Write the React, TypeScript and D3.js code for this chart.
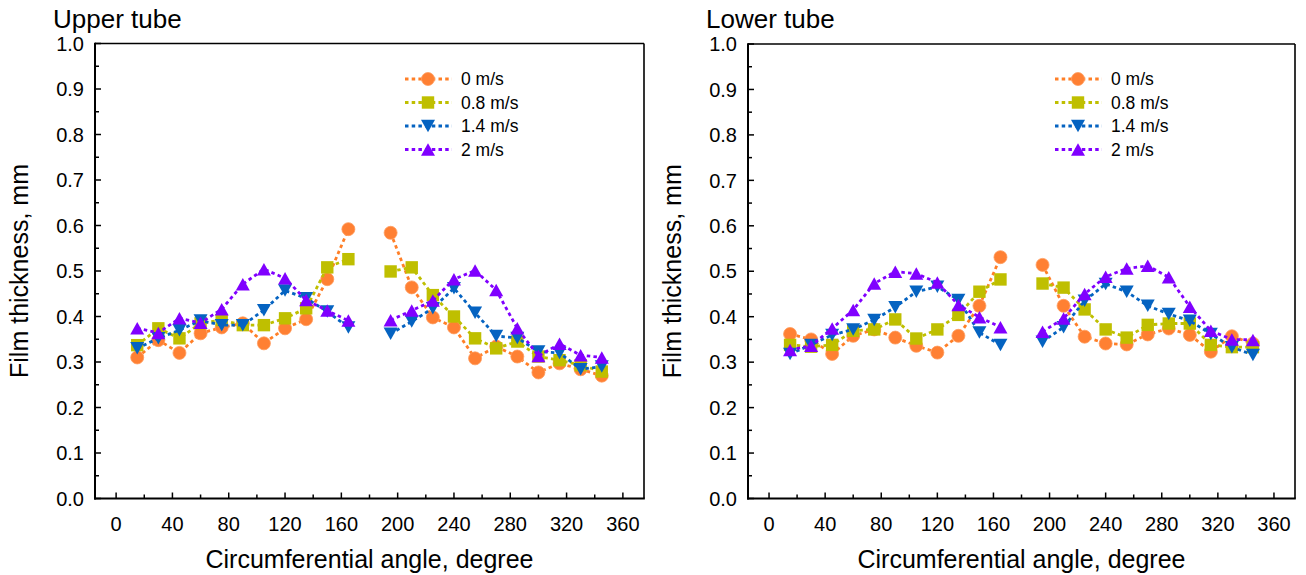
import React from "react";
import * as d3 from "d3";

// Circumferential positions (degrees) of the measurement points, split at the top of the tube
const anglesA = [15, 30, 45, 60, 75, 90, 105, 120, 135, 150, 165];
const anglesB = [195, 210, 225, 240, 255, 270, 285, 300, 315, 330, 345];

const speeds = ["0 m/s", "0.8 m/s", "1.4 m/s", "2 m/s"];

// Upper tube film thickness (mm)
const upper0 = [0.31, 0.348, 0.32, 0.363, 0.376, 0.385, 0.341, 0.374, 0.394, 0.482, 0.592,
  0.584, 0.464, 0.398, 0.376, 0.308, 0.334, 0.312, 0.277, 0.297, 0.284, 0.27];
const upper08 = [0.337, 0.374, 0.352, 0.385, 0.392, 0.381, 0.381, 0.396, 0.418, 0.508, 0.526,
  0.499, 0.508, 0.447, 0.4, 0.352, 0.33, 0.345, 0.312, 0.304, 0.293, 0.279];
const upper14 = [0.33, 0.352, 0.37, 0.391, 0.381, 0.381, 0.414, 0.457, 0.44, 0.411, 0.376,
  0.362, 0.389, 0.418, 0.462, 0.408, 0.357, 0.353, 0.323, 0.32, 0.284, 0.29];
const upper2 = [0.374, 0.364, 0.396, 0.386, 0.416, 0.471, 0.504, 0.484, 0.436, 0.413, 0.391,
  0.392, 0.413, 0.435, 0.482, 0.501, 0.458, 0.374, 0.313, 0.34, 0.315, 0.31];

// Lower tube film thickness (mm)
const lower0 = [0.362, 0.35, 0.318, 0.358, 0.372, 0.354, 0.336, 0.321, 0.358, 0.424, 0.531,
  0.514, 0.424, 0.356, 0.341, 0.339, 0.361, 0.374, 0.36, 0.323, 0.357, 0.341];
const lower08 = [0.338, 0.334, 0.338, 0.369, 0.372, 0.394, 0.352, 0.372, 0.404, 0.455, 0.482,
  0.473, 0.464, 0.416, 0.372, 0.354, 0.382, 0.385, 0.385, 0.338, 0.333, 0.333];
const lower14 = [0.318, 0.338, 0.36, 0.372, 0.393, 0.421, 0.455, 0.466, 0.437, 0.365, 0.338,
  0.345, 0.377, 0.435, 0.472, 0.455, 0.424, 0.406, 0.391, 0.362, 0.333, 0.316];
const lower2 = [0.327, 0.336, 0.374, 0.415, 0.473, 0.499, 0.495, 0.475, 0.426, 0.399, 0.377,
  0.367, 0.396, 0.45, 0.488, 0.506, 0.512, 0.487, 0.422, 0.369, 0.35, 0.349];

const xTicks = [0, 40, 80, 120, 160, 200, 240, 280, 320, 360];
const yTicks = [0, 0.1, 0.2, 0.3, 0.4, 0.5, 0.6, 0.7, 0.8, 0.9, 1.0];

const lineColors = ["#FF7F27", "#BFBF00", "#0563C1", "#8000FF"];
const markerFill = ["#FF8033", "#BFBF00", "#0563C1", "#8000FF"];
const markerKinds = ["circle", "square", "down", "up"];

const FONT = "'Liberation Sans', Arial, Helvetica, sans-serif";

function Marker({ kind, x, y, color }: { kind: string; x: number; y: number; color: string }) {
  if (kind === "circle") {
    return <circle cx={x} cy={y} r={6.5} fill={color} stroke="#FF9A5C" strokeWidth={0.8} />;
  }
  if (kind === "square") {
    return <rect x={x - 6.2} y={y - 6.2} width={12.4} height={12.4} fill={color} />;
  }
  const h = 12.5;
  const w = 14;
  if (kind === "down") {
    return (
      <path d={`M${x - w / 2},${y - h / 2}L${x + w / 2},${y - h / 2}L${x},${y + h / 2}Z`} fill={color} />
    );
  }
  return <path d={`M${x - w / 2},${y + h / 2}L${x + w / 2},${y + h / 2}L${x},${y - h / 2}Z`} fill={color} />;
}

type PanelProps = {
  title: string;
  left: number;
  right: number;
  top: number;
  bottom: number;
  series: number[][];
  legendX: number;
};

function Panel({ title, left, right, top, bottom, series, legendX }: PanelProps) {
  const x = d3.scaleLinear().domain([-15, 375]).range([left, right]);
  const y = d3.scaleLinear().domain([0, 1]).range([bottom, top]);
  const line = d3
    .line<[number, number]>()
    .x((d) => x(d[0]))
    .y((d) => y(d[1]));

  const xMinor = d3.range(0, 361, 20).filter((v) => v % 40 !== 0);
  const yMinor = d3.range(0.05, 1, 0.1);

  return (
    <g>
      <text x={left - 42} y={28} fontFamily={FONT} fontSize={26} fill="#000">
        {title}
      </text>

      {series.map((vals, si) => {
        const ptsA: [number, number][] = anglesA.map((a, i) => [a, vals[i]]);
        const ptsB: [number, number][] = anglesB.map((a, i) => [a, vals[i + anglesA.length]]);
        const all = [...ptsA, ...ptsB];
        return (
          <g key={si}>
            {[ptsA, ptsB].map((pts, k) => (
              <path
                key={k}
                d={line(pts) || ""}
                fill="none"
                stroke={lineColors[si]}
                strokeWidth={2.8}
                strokeDasharray="3.5,3.2"
              />
            ))}
            {all.map((p, i) => (
              <Marker key={i} kind={markerKinds[si]} x={x(p[0])} y={y(p[1])} color={markerFill[si]} />
            ))}
          </g>
        );
      })}

      {/* frame */}
      <line x1={left} x2={right} y1={top} y2={top} stroke="#000" strokeWidth={1.6} />
      <line x1={right} x2={right} y1={top} y2={bottom} stroke="#000" strokeWidth={1.6} />
      <line x1={left} x2={left} y1={top - 0.8} y2={bottom + 1} stroke="#000" strokeWidth={2} />
      <line x1={left - 1} x2={right + 0.8} y1={bottom} y2={bottom} stroke="#000" strokeWidth={2} />

      {/* x ticks */}
      {xTicks.map((t) => (
        <g key={t}>
          <line x1={x(t)} x2={x(t)} y1={bottom} y2={bottom - 6} stroke="#000" strokeWidth={1.5} />
          <text x={x(t)} y={531} textAnchor="middle" fontFamily={FONT} fontSize={20} fill="#000">
            {t}
          </text>
        </g>
      ))}
      {xMinor.map((t) => (
        <line key={t} x1={x(t)} x2={x(t)} y1={bottom} y2={bottom - 4} stroke="#000" strokeWidth={1.5} />
      ))}

      {/* y ticks */}
      {yTicks.map((t) => (
        <g key={t}>
          <line x1={left} x2={left + 6} y1={y(t)} y2={y(t)} stroke="#000" strokeWidth={1.5} />
          <text
            x={left - 11}
            y={y(t)}
            dy="0.36em"
            textAnchor="end"
            fontFamily={FONT}
            fontSize={20}
            fill="#000"
          >
            {t.toFixed(1)}
          </text>
        </g>
      ))}
      {yMinor.map((t) => (
        <line key={t} x1={left} x2={left + 4} y1={y(t)} y2={y(t)} stroke="#000" strokeWidth={1.5} />
      ))}

      {/* axis titles */}
      <text
        x={(left + right) / 2}
        y={568}
        textAnchor="middle"
        fontFamily={FONT}
        fontSize={25}
        fill="#000"
      >
        Circumferential angle, degree
      </text>
      <text
        transform={`translate(${left - 67},${(top + bottom) / 2}) rotate(-90)`}
        textAnchor="middle"
        fontFamily={FONT}
        fontSize={25}
        fill="#000"
      >
        Film thickness, mm
      </text>

      {/* legend */}
      {speeds.map((s, i) => {
        const ly = 79 + i * 23.5;
        return (
          <g key={s}>
            <line
              x1={legendX}
              x2={legendX + 47}
              y1={ly}
              y2={ly}
              stroke={lineColors[i]}
              strokeWidth={2.8}
              strokeDasharray="3.5,3.2"
            />
            <Marker kind={markerKinds[i]} x={legendX + 23} y={ly} color={markerFill[i]} />
            <text x={legendX + 56} y={ly} dy="0.36em" fontFamily={FONT} fontSize={17.5} fill="#000">
              {s}
            </text>
          </g>
        );
      })}
    </g>
  );
}

export default function App() {
  return (
    <svg
      width={1306}
      height={575}
      style={{ position: "absolute", left: 0, top: 0, background: "#fff" }}
    >
      <rect width={1306} height={575} fill="#fff" />
      <Panel
        title="Upper tube"
        left={95}
        right={644}
        top={43.5}
        bottom={498.5}
        series={[upper0, upper08, upper14, upper2]}
        legendX={405}
      />
      <Panel
        title="Lower tube"
        left={748}
        right={1295}
        top={44}
        bottom={498.5}
        series={[lower0, lower08, lower14, lower2]}
        legendX={1055}
      />
    </svg>
  );
}
